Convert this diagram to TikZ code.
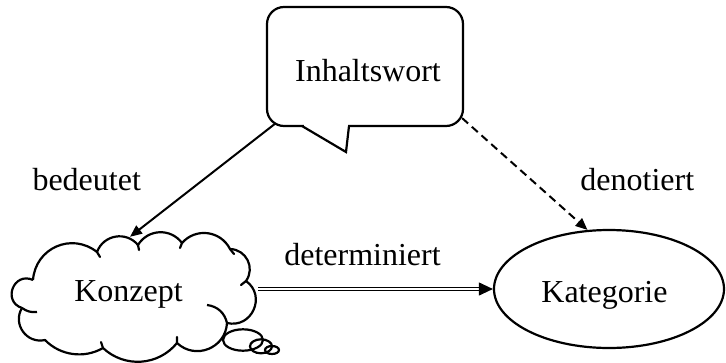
\documentclass[tikz,border=0pt]{standalone}
\usepackage{fontspec}
\setmainfont{Liberation Serif}
\usetikzlibrary{arrows.meta,shapes.geometric,calc}
\begin{document}
\begin{tikzpicture}[x=1pt,y=-1pt,
  shapeline/.style={line width=2.2pt},
  lbl/.style={font=\fontsize{32}{38}\selectfont, inner sep=0pt, anchor=base},
  conn/.style={line width=2pt, -{Triangle[length=12pt,width=10pt]}},
  dblconn/.style={line width=1.1pt, double, double distance=2pt, -{Triangle[length=14pt,width=13pt]}},
  bump/.style 2 args={bend left=#1, looseness=#2},
]
\useasboundingbox (0,0) rectangle (726,362);

% speech bubble
\node[shapeline, draw, rounded corners=17pt, minimum width=196pt, minimum height=119pt, inner sep=0pt] (inh) at (365,66.5) {};
\fill[white] (303.5,123) rectangle (347.5,129);
\draw[shapeline, line join=miter] (302,126) -- (346,152) -- (349,126);
\node[lbl] (inhl) at (368,81) {Inhaltswort};

% cloud
\node[ellipse, minimum width=256pt, minimum height=114pt, inner sep=0pt] (kon) at (130,294) {};
\draw[shapeline, line join=round]
  (33,280) to[bump={62}{1.18}] (97,252)
  to[bump={60}{1.14}] (138,245)
  to[bump={56}{1.1}] (182,243)
  to[bump={56}{1.1}] (230,249)
  to[bump={62}{1.16}] (246,281)
  to[bump={79}{1.42}] (227,323)
  to[bump={65}{1.2}] (177,343)
  to[bump={47}{1.02}] (103,348)
  to[bump={38}{0.95}] (45,340)
  to[bump={67}{1.22}] (22,308)
  to[bump={93}{1.8}] (33,280);
\draw[shapeline, line cap=round]
  (97,252) -- (100,257)
  (138,245) -- (139,250)
  (182,243) -- (180,248)
  (230,249) -- (234,254)
  (246,281) -- (241,285)
  (177,343) -- (177,337)
  (103,348) -- (101,342);
\draw[shapeline] (207,305) to[bend left=35] (227,323);
\draw[shapeline] (22,308) to[bend right=20] (37,312);
\node[lbl] (konl) at (128.5,301) {Konzept};

% thought bubbles
\draw[shapeline] (243,340) ellipse [x radius=20pt, y radius=10.7pt];
\draw[shapeline] (261,346.3) ellipse [x radius=11pt, y radius=7pt];
\draw[shapeline] (272,350) ellipse [x radius=7pt, y radius=4pt];

% category ellipse
\node[shapeline, draw, ellipse, minimum width=230pt, minimum height=118pt, inner sep=0pt] (kat) at (609,289) {};
\node[lbl] (katl) at (604.5,302) {Kategorie};

% connectors
\draw[conn] ([shift={(10pt,4pt)}]inh.south west) -- (kon.north);
\draw[conn, dash pattern=on 8pt off 5pt] ([shift={(-2pt,9pt)}]inh.south east) -- (kat.110);
\draw[dblconn] (kon.east |- kat.west) -- (kat.west);

% labels
\node[lbl] (bed) at (86.7,190) {bedeutet};
\node[lbl] (den) at (637.3,190) {denotiert};
\node[lbl] (det) at (362.5,265) {determiniert};
\end{tikzpicture}
\end{document}
